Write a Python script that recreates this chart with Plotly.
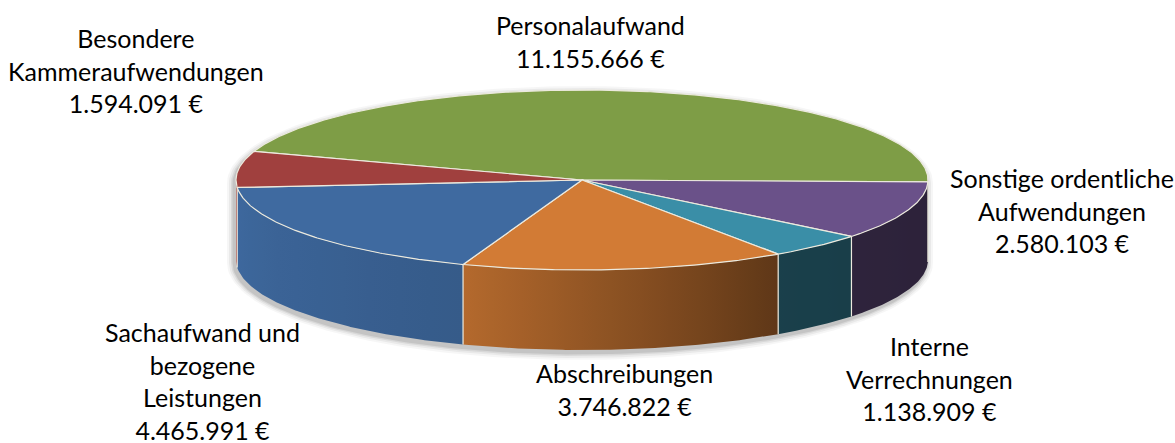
import numpy as np
import plotly.graph_objects as go

# ---------------- data ----------------
categories = [
    "Personalaufwand",
    "Sonstige ordentliche<br>Aufwendungen",
    "Interne<br>Verrechnungen",
    "Abschreibungen",
    "Sachaufwand und<br>bezogene<br>Leistungen",
    "Besondere<br>Kammeraufwendungen",
]
values = [11155666, 2580103, 1138909, 3746822, 4465991, 1594091]

# ---------------- style ----------------
top_colors = ["#7E9D46", "#6A5189", "#3A8EA7", "#D27B35", "#3F6AA0", "#A0403E"]
label_pos = [(590, 41), (1062, 210), (929, 378), (624, 389), (202, 381), (136, 70)]
CX, CY, RX, RY, DEPTH = 582, 180, 346, 90, 80
START = 161.5  # leading edge angle of first slice (degrees, clockwise order)
EDGE = "rgba(236,234,222,1)"
W, H = 1175, 443


def hex_rgb(h):
    h = h.lstrip("#")
    return [int(h[i:i + 2], 16) for i in (0, 2, 4)]


def shade(h, f):
    r, g, b = hex_rgb(h)
    return "rgb(%d,%d,%d)" % (min(255, r * f), min(255, g * f), min(255, b * f))


def pt(t):
    r = np.radians(t)
    return CX + RX * np.cos(r), CY - RY * np.sin(r)


def light(tn):
    return float(np.interp(tn, [-180, -110, -55, 0], [1.0, 0.86, 0.45, 0.42]))


total = float(sum(values))
spans = []
a = START
for v in values:
    sweep = 360.0 * v / total
    spans.append((a, a - sweep))
    a -= sweep

fig = go.Figure()

# ---- soft shadow under the pie ----
sil_t1 = np.linspace(0, 180, 120)
sil_t2 = np.linspace(180, 360, 120)
for grow, op in [(7, 0.035), (5, 0.05), (3, 0.07), (1.5, 0.09)]:
    xs, ys = [], []
    for t in sil_t1:
        r = np.radians(t)
        xs.append(CX - 2 + (RX + grow) * np.cos(r))
        ys.append(CY + 3 - (RY + grow) * np.sin(r))
    for t in sil_t2:
        r = np.radians(t)
        xs.append(CX - 2 + (RX + grow) * np.cos(r))
        ys.append(CY + 3 + DEPTH - (RY + grow) * np.sin(r))
    xs.append(xs[0]); ys.append(ys[0])
    fig.add_trace(go.Scatter(x=xs, y=ys, mode="lines", fill="toself",
                             fillcolor="rgba(0,0,0,%.3f)" % op,
                             line=dict(width=0, color="rgba(0,0,0,0)"),
                             hoverinfo="skip", showlegend=False))

# ---- side walls (front half only), horizontal gradient per slice ----
for i, (a0, a1) in enumerate(spans):
    for k in range(-2, 3):
        lo = max(a1, -180 + 360 * k)
        hi = min(a0, 360 * k)
        if hi - lo <= 1e-9:
            continue
        n = max(4, int(np.ceil((hi - lo) * 2)))
        ts = np.linspace(lo, hi, n + 1)
        xs = [pt(t)[0] for t in ts]
        ys = [pt(t)[1] for t in ts]
        X = xs + xs[::-1] + [xs[0]]
        Y = ys + [y + DEPTH for y in ys[::-1]] + [ys[0]]
        xmin, xmax = min(xs), max(xs)
        span_x = max(xmax - xmin, 1e-6)
        samp = np.linspace(lo, hi, 12)
        stops = []
        for t in samp:
            pos = (pt(t)[0] - xmin) / span_x
            stops.append((pos, shade(top_colors[i], light(t - 360 * k))))
        stops.sort(key=lambda s: s[0])
        stops[0] = (0.0, stops[0][1])
        stops[-1] = (1.0, stops[-1][1])
        mid = shade(top_colors[i], light((lo + hi) / 2 - 360 * k))
        fig.add_trace(go.Scatter(x=X, y=Y, mode="lines", fill="toself",
                                 fillcolor=mid,
                                 fillgradient=dict(type="horizontal",
                                                   colorscale=[[p, c] for p, c in stops],
                                                   start=xmin, stop=xmax),
                                 line=dict(color="rgba(0,0,0,0)", width=0),
                                 hoverinfo="skip", showlegend=False))

# ---- vertical boundary lines on the side ----
for a0, a1 in spans:
    tn = ((a0 + 180) % 360) - 180
    if -180 < tn < 0:
        x, y = pt(a0)
        fig.add_trace(go.Scatter(x=[x, x], y=[y, y + DEPTH], mode="lines",
                                 line=dict(color=EDGE, width=1.2),
                                 hoverinfo="skip", showlegend=False))

# ---- top faces ----
for i, (a0, a1) in enumerate(spans):
    n = max(8, int(abs(a0 - a1) * 2))
    ts = np.linspace(a0, a1, n)
    xs = [CX] + [pt(t)[0] for t in ts] + [CX]
    ys = [CY] + [pt(t)[1] for t in ts] + [CY]
    fig.add_trace(go.Scatter(x=xs, y=ys, mode="lines", fill="toself",
                             fillcolor=top_colors[i],
                             line=dict(color=EDGE, width=1.2),
                             name=categories[i].replace("<br>", " "),
                             hoverinfo="name", showlegend=False))

# ---- labels ----
for i, v in enumerate(values):
    txt = categories[i] + "<br>" + "{:,}".format(v).replace(",", ".") + " €"
    x, y = label_pos[i]
    fig.add_annotation(x=x, y=y, xref="x", yref="y", text=txt, showarrow=False,
                       xanchor="center", yanchor="middle", align="center",
                       font=dict(family="Lato, Calibri, sans-serif", size=25, color="#000000"))

fig.update_layout(
    width=W, height=H,
    margin=dict(l=0, r=0, t=0, b=0),
    paper_bgcolor="white", plot_bgcolor="white",
    showlegend=False,
    xaxis=dict(range=[0, W], visible=False, fixedrange=True),
    yaxis=dict(range=[H, 0], visible=False, fixedrange=True),
)

fig.write_html("out.html")
